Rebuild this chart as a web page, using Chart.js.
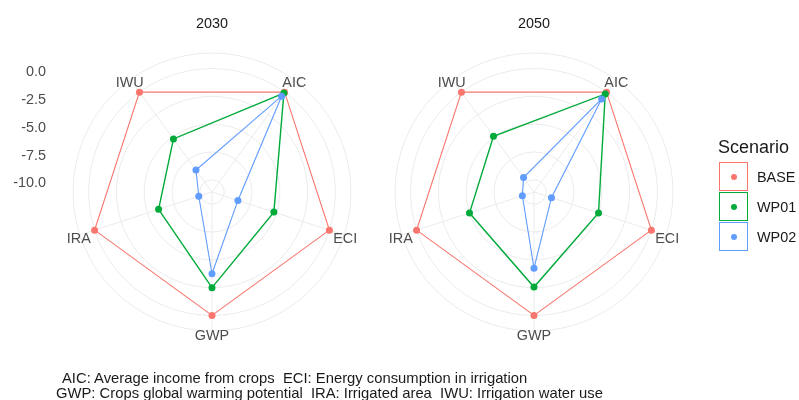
<!DOCTYPE html>
<html>
<head>
<meta charset="utf-8">
<script src="https://cdn.jsdelivr.net/npm/chart.js@4.4.1/dist/chart.umd.min.js"></script>
<style>
  html, body { margin: 0; padding: 0; background: #ffffff; }
  #wrap { position: relative; width: 799px; height: 400px; overflow: hidden;
          font-family: "Liberation Sans", Arial, sans-serif; }
  #wrap canvas { position: absolute; left: 0; top: 0; }
  .ltitle { position: absolute; font-size: 18px; line-height: 20px; color: #1a1a1a; white-space: nowrap; }
  .key { position: absolute; width: 29px; height: 29px; box-sizing: border-box; background: #fff; }
  .dot { position: absolute; left: 11px; top: 11px; width: 6px; height: 6px; border-radius: 50%; }
  .llab { position: absolute; font-size: 14.4px; line-height: 16px; color: #1a1a1a; white-space: nowrap; }
  .cap { position: absolute; font-size: 14.8px; line-height: 16px; color: #1a1a1a; white-space: pre; }
</style>
</head>
<body>
<div id="wrap">
  <canvas id="c2030" width="799" height="400"></canvas>
  <canvas id="c2050" width="799" height="400"></canvas>
</div>
<script>
// Indicators around the radar, clockwise from the upper right
const indicators = ['AIC', 'ECI', 'GWP', 'IRA', 'IWU'];

// Scenario names and colours
const scenarios = ['BASE', 'WP01', 'WP02'];
const scenarioColors = ['#F8766D', '#00AA3A', '#619CFF'];

// Change relative to the base scenario, year 2030
const base2030 = [0, 0, 0, 0, 0];
const wp01_2030 = [-0.1, -5.25, -2.5, -6.05, -5.2];
const wp02_2030 = [-0.45, -8.65, -3.75, -9.85, -8.65];

// Change relative to the base scenario, year 2050
const base2050 = [0, 0, 0, 0, 0];
const wp01_2050 = [-0.2, -5.0, -2.55, -5.0, -4.9];
const wp02_2050 = [-0.75, -9.45, -4.25, -10.0, -9.5];

// Radial axis: range and labelled breaks
const radialMin = -11.1;
const radialMax = 1.4;
const radialBreaks = [-10, -7.5, -5, -2.5, 0];
const radialBreakLabels = ['-10.0', '-7.5', '-5.0', '-2.5', '0.0'];

const legendTitle = 'Scenario';
const captionLines = [
  'AIC: Average income from crops  ECI: Energy consumption in irrigation',
  'GWP: Crops global warming potential  IRA: Irrigated area  IWU: Irrigation water use'
];

const FONT = '"Liberation Sans", Arial, sans-serif';
const TEXT_PX = 14.4;

// Panel title, indicator labels and (on the first panel) the radial break labels
const panelText = {
  id: 'panelText',
  beforeDatasetsDraw(chart, args, opts) {
    const r = chart.scales.r;
    const ctx = chart.ctx;
    ctx.save();
    ctx.font = TEXT_PX + 'px ' + FONT;
    ctx.textBaseline = 'alphabetic';

    // indicator names just outside the outer ring
    ctx.fillStyle = '#4d4d4d';
    ctx.textAlign = 'center';
    const d = r.getDistanceFromCenterForValue(r.max) + 1;
    chart.data.labels.forEach((lab, i) => {
      const p = r.getPointPosition(i, d);
      ctx.fillText(lab, p.x, p.y + 8);
    });

    // panel title
    ctx.fillStyle = '#1a1a1a';
    ctx.fillText(opts.title, r.xCenter, 28);

    // radial break labels along the left edge
    if (opts.showBreaks) {
      ctx.fillStyle = '#4d4d4d';
      ctx.textAlign = 'right';
      radialBreaks.forEach((v, i) => {
        const y = r.yCenter - r.getDistanceFromCenterForValue(v) + 7.7;
        ctx.fillText(radialBreakLabels[i], 46, y);
      });
    }
    ctx.restore();
  }
};

function makeDatasets(series) {
  return series.map((vals, i) => ({
    label: scenarios[i],
    data: vals,
    fill: false,
    borderColor: scenarioColors[i],
    backgroundColor: scenarioColors[i],
    pointBackgroundColor: scenarioColors[i],
    pointBorderColor: scenarioColors[i],
    pointBorderWidth: 0,
    pointRadius: 3.5,
    borderWidth: i === 1 ? 1.4 : 1.1,
    tension: 0,
    order: 3 - i
  }));
}

function makePanel(id, title, series, padLeft, showBreaks) {
  const side = 278;
  return new Chart(document.getElementById(id), {
    type: 'radar',
    data: { labels: indicators, datasets: makeDatasets(series) },
    plugins: [panelText],
    options: {
      responsive: false,
      animation: false,
      layout: { padding: { left: padLeft, right: 799 - padLeft - side, top: 53, bottom: 400 - 53 - side } },
      plugins: {
        legend: { display: false },
        tooltip: { enabled: false },
        panelText: { title: title, showBreaks: showBreaks }
      },
      scales: {
        r: {
          min: radialMin,
          max: radialMax,
          startAngle: 36,
          afterBuildTicks(scale) {
            scale.ticks = [radialMin].concat(radialBreaks, [radialMax]).map(v => ({ value: v }));
          },
          ticks: { display: false },
          pointLabels: { display: false },
          grid: { circular: true, color: '#ebebeb', lineWidth: 1 },
          angleLines: { color: '#ebebeb', lineWidth: 1 }
        }
      }
    }
  });
}

makePanel('c2030', '2030', [base2030, wp01_2030, wp02_2030], 73, true);
makePanel('c2050', '2050', [base2050, wp01_2050, wp02_2050], 395, false);

// Legend: title, then one keyed row per scenario
const wrap = document.getElementById('wrap');
function addEl(cls, left, top, text) {
  const el = document.createElement('div');
  el.className = cls;
  el.style.left = left + 'px';
  el.style.top = top + 'px';
  if (text !== undefined) el.textContent = text;
  wrap.appendChild(el);
  return el;
}
addEl('ltitle', 718, 137, legendTitle);
scenarios.forEach((name, i) => {
  const top = 162 + i * 30;
  const key = addEl('key', 719, top);
  key.style.border = '1px solid ' + scenarioColors[i];
  const dot = document.createElement('div');
  dot.className = 'dot';
  dot.style.backgroundColor = scenarioColors[i];
  key.appendChild(dot);
  addEl('llab', 757, top + 7, name);
});

// Caption with the indicator abbreviations
addEl('cap', 62, 370, captionLines[0]);
addEl('cap', 56, 385, captionLines[1]);
</script>
</body>
</html>
